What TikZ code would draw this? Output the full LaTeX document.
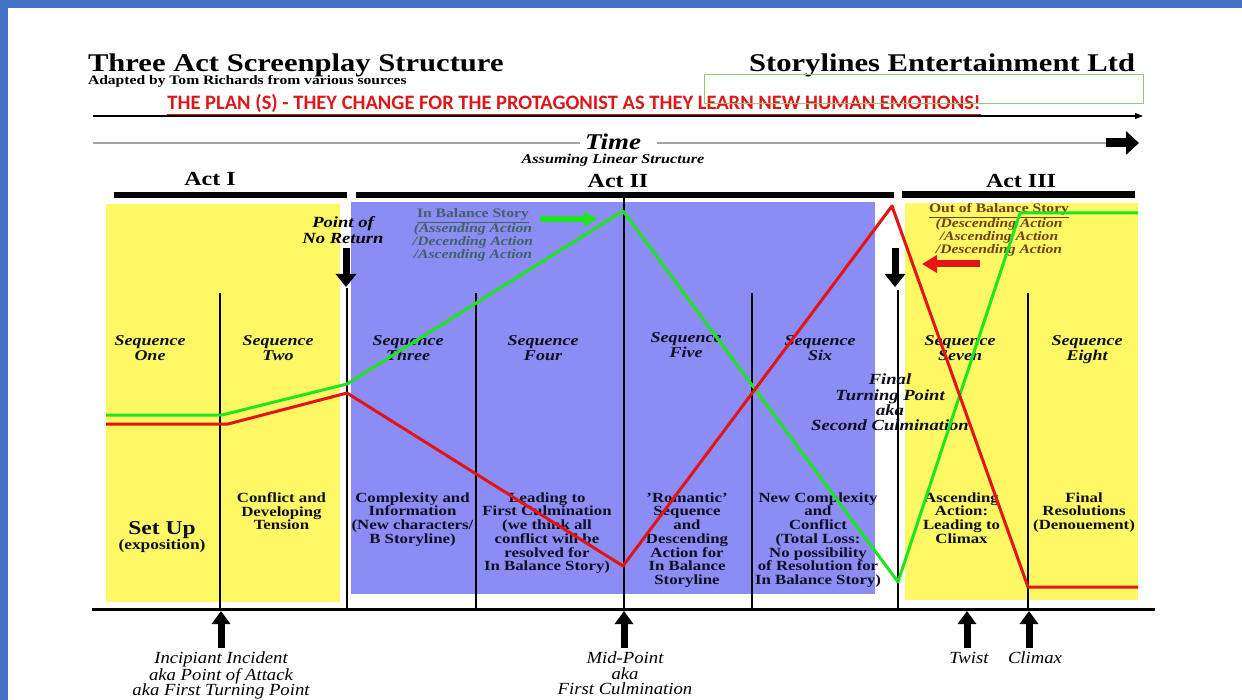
\documentclass[tikz,border=0pt]{standalone}
\usepackage{fontspec}
\setmainfont[FakeStretch=1.2]{Liberation Serif}
\newfontfamily\condfont[FakeStretch=1.1]{Liberation Serif}
\newfontfamily\calfont{Carlito}
\usetikzlibrary{arrows.meta}
\definecolor{frameblue}{RGB}{68,114,196}
\definecolor{boxyellow}{RGB}{253,248,100}
\definecolor{boxblue}{RGB}{140,140,245}
\definecolor{lgreen}{RGB}{30,230,30}
\definecolor{lred}{RGB}{228,20,20}
\definecolor{planred}{RGB}{222,24,24}
\definecolor{rectgreen}{RGB}{150,195,125}
\definecolor{balteal}{RGB}{60,100,100}
\definecolor{obrown}{RGB}{110,65,20}
\definecolor{ink}{RGB}{15,15,35}
\definecolor{timegray}{RGB}{165,165,165}
\begin{document}
\begin{tikzpicture}[x=1pt,y=-1pt,
  txt/.style={inner sep=0pt,outer sep=0pt},
  seqlbl/.style={txt,anchor=north,align=center,text=ink,font=\fontsize{15}{14.5}\selectfont\bfseries\itshape},
  bodytxt/.style={txt,anchor=north,align=center,text=ink,font=\fontsize{14}{13.7}\selectfont\bfseries},
  evlbl/.style={txt,anchor=north,align=center,text=black,font=\condfont\fontsize{17}{15.5}\selectfont\itshape},
  actlbl/.style={txt,anchor=base,font=\fontsize{20}{24}\selectfont\bfseries},
  storyline/.style={line width=3pt,line join=round},
  vline/.style={line width=2.6pt,black},
  bigarrow/.style={line width=7pt,-{Triangle[width=20pt,length=13pt]}},
]
\useasboundingbox (0,0) rectangle (1242,700);
\fill[white] (0,0) rectangle (1242,700);
\fill[frameblue] (0,0) rectangle (1242,8);
\fill[frameblue] (0,0) rectangle (8,700);

% header
\node[txt,anchor=base west,font=\fontsize{25.5}{30}\selectfont\bfseries] (title) at (88,72) {Three Act Screenplay Structure};
\node[txt,anchor=base west,font=\fontsize{13}{15}\selectfont\bfseries] (adapted) at (88,84.5) {Adapted by Tom Richards from various sources};
\node[txt,anchor=base east,font=\fontsize{25.5}{30}\selectfont\bfseries] (company) at (1135,72) {Storylines Entertainment Ltd};
\node[txt,anchor=base,text=planred,font=\calfont\bfseries\fontsize{20.5}{24}\selectfont] (plan) at (574,110) {\underline{THE PLAN (S) - THEY CHANGE FOR THE PROTAGONIST AS THEY LEARN NEW HUMAN EMOTIONS!}};
\draw[rectgreen,line width=1pt] (704,75) rectangle (1143,104);
\coordinate (pl1) at (93,116);
\coordinate (pl2) at (1143,116);
\draw[line width=1.2pt,-{Triangle[width=6pt,length=8pt]}] (pl1) -- (pl2);

\node[txt,anchor=base,font=\fontsize{22.5}{26}\selectfont\bfseries\itshape] (time) at (613,150) {Time};
\node[txt,anchor=base,font=\fontsize{13.5}{16}\selectfont\bfseries\itshape] (assume) at (613,164) {Assuming Linear Structure};
\coordinate (tl1) at (93,143);
\coordinate (tl2) at (580,143);
\coordinate (tl3) at (657,143);
\coordinate (ta1) at (1106,143);
\coordinate (ta2) at (1139,143);
\draw[timegray,line width=1.2pt] (tl1) -- (tl2);
\draw[timegray,line width=1.2pt] (tl3) -- (ta1);
\draw[line width=9pt,-{Triangle[width=23pt,length=13pt]}] (ta1) -- (ta2);

% acts
\node[actlbl] (act1) at (210,186) {Act I};
\node[actlbl] (act2) at (618,188) {Act II};
\node[actlbl] (act3) at (1021,188) {Act III};
\fill (114,192) rectangle (347,198);
\fill (356,192) rectangle (894,198);
\fill (902,191) rectangle (1135,198);

% boxes
\fill[boxyellow] (106,204) rectangle (340,602);
\fill[boxblue] (351,202) rectangle (875,594);
\fill[boxyellow] (905,203) rectangle (1138,600);

% texts in top area
\node[txt,anchor=north,align=center,font=\fontsize{15.5}{16}\selectfont\bfseries\itshape] (pnr) at (343,216.5) {Point of\\No Return};
\node[txt,anchor=north,align=center,text=balteal,font=\fontsize{13}{13}\selectfont\bfseries] (inbal) at (473,208.5) {\underline{In Balance Story}\\\textit{(Assending Action}\\\textit{/Decending Action}\\\textit{/Ascending Action}};
\node[txt,anchor=north,align=center,text=obrown,font=\fontsize{13}{13}\selectfont\bfseries] (outbal) at (999,203.5) {\underline{Out of Balance Story}\\\textit{(Descending Action}\\\textit{/Ascending Action}\\\textit{/Descending Action}};

% sequence labels
\node[seqlbl] (s1) at (150,336) {Sequence\\One};
\node[seqlbl] (s2) at (278,336) {Sequence\\Two};
\node[seqlbl] (s3) at (408,336) {Sequence\\Three};
\node[seqlbl] (s4) at (543,336) {Sequence\\Four};
\node[seqlbl] (s5) at (686,333) {Sequence\\Five};
\node[seqlbl] (s6) at (820,336) {Sequence\\Six};
\node[seqlbl] (s7) at (960,336) {Sequence\\Seven};
\node[seqlbl] (s8) at (1087,336) {Sequence\\Eight};
\node[txt,anchor=north,align=center,text=ink,font=\fontsize{15.5}{15.4}\selectfont\bfseries\itshape] (ftp) at (890,374) {Final\\Turning Point\\aka\\Second Culmination};

% body texts
\node[txt,anchor=base,text=ink,font=\fontsize{19.6}{22}\selectfont\bfseries] (setup) at (162,534) {Set Up};
\node[txt,anchor=base,text=ink,font=\fontsize{14.5}{16}\selectfont\bfseries] (expo) at (162,549.5) {(exposition)};
\node[bodytxt] (b2) at (281.5,492.5) {Conflict and\\Developing\\Tension};
\node[bodytxt] (b3) at (412.5,492.5) {Complexity and\\Information\\(New characters/\\B Storyline)};
\node[bodytxt] (b4) at (547,492.5) {Leading to\\First Culmination\\(we think all\\conflict will be\\resolved for\\In Balance Story)};
\node[bodytxt] (b5) at (687,492.5) {'Romantic'\\Sequence\\and\\Descending\\Action for\\In Balance\\Storyline};
\node[bodytxt] (b6) at (818,492.5) {New Complexity\\and\\Conflict\\(Total Loss:\\No possibility\\of Resolution for\\In Balance Story)};
\node[bodytxt] (b7) at (961.5,492.5) {Ascending\\Action:\\Leading to\\Climax};
\node[bodytxt] (b8) at (1084,492.5) {Final\\Resolutions\\(Denouement)};

% vertical lines and base line
\coordinate (v1t) at (220,293);  \coordinate (v1b) at (220,609);
\coordinate (v2t) at (347,288);  \coordinate (v2b) at (347,609);
\coordinate (v3t) at (476,293);  \coordinate (v3b) at (476,609);
\coordinate (v4t) at (624,197);  \coordinate (v4b) at (624,609);
\coordinate (v5t) at (752,293);  \coordinate (v5b) at (752,609);
\coordinate (v6t) at (898,290);  \coordinate (v6b) at (898,609);
\coordinate (v7t) at (1028,293); \coordinate (v7b) at (1028,609);
\foreach \i in {1,...,7} {\draw[vline] (v\i t) -- (v\i b);}
\coordinate (bl1) at (92,609);
\coordinate (bl2) at (1155,609);
\draw[line width=3pt] (bl1) -- (bl2);

% story lines
\coordinate (g1) at (106,415); \coordinate (g2) at (222,415); \coordinate (g3) at (347,384);
\coordinate (g4) at (623,211); \coordinate (g5) at (898,582); \coordinate (g6) at (1020,213);
\coordinate (g7) at (1138,213);
\coordinate (r1) at (106,424); \coordinate (r2) at (228,424); \coordinate (r3) at (347,393);
\coordinate (r4) at (623,566); \coordinate (r5) at (892,206); \coordinate (r6) at (1028,587);
\coordinate (r7) at (1138,587);
\draw[storyline,lgreen] (g1) -- (g2) -- (g3) -- (g4) -- (g5) -- (g6) -- (g7);
\draw[storyline,lred] (r1) -- (r2) -- (r3) -- (r4) -- (r5) -- (r6) -- (r7);

% arrows
\coordinate (ga1) at (540,219); \coordinate (ga2) at (598,219);
\draw[lgreen,line width=6pt,-{Triangle[width=14pt,length=14pt]}] (ga1) -- (ga2);
\coordinate (ra1) at (980,264); \coordinate (ra2) at (922,264);
\draw[lred,line width=7pt,-{Triangle[width=17pt,length=15pt]}] (ra1) -- (ra2);
\coordinate (pa1) at (346,248); \coordinate (pa2) at (346,287);
\draw[bigarrow] (pa1) -- (pa2);
\coordinate (fa1) at (895,248); \coordinate (fa2) at (895,287);
\draw[bigarrow] (fa1) -- (fa2);
\coordinate (ua1) at (221,648); \coordinate (ub1) at (221,611);
\coordinate (ua2) at (624,648); \coordinate (ub2) at (624,611);
\coordinate (ua3) at (967,648); \coordinate (ub3) at (967,611);
\coordinate (ua4) at (1029,648); \coordinate (ub4) at (1029,611);
\foreach \i in {1,...,4} {\draw[line width=7pt,-{Triangle[width=18pt,length=13pt]}] (ua\i) -- (ub\i);}

% bottom labels
\node[evlbl] (inc) at (221,652) {Incipiant Incident\\aka Point of Attack\\aka First Turning Point};
\node[evlbl] (mid) at (625,652) {Mid-Point\\aka\\First Culmination};
\node[evlbl] (twist) at (969,652) {Twist};
\node[evlbl] (climax) at (1035,652) {Climax};
\end{tikzpicture}
\end{document}
